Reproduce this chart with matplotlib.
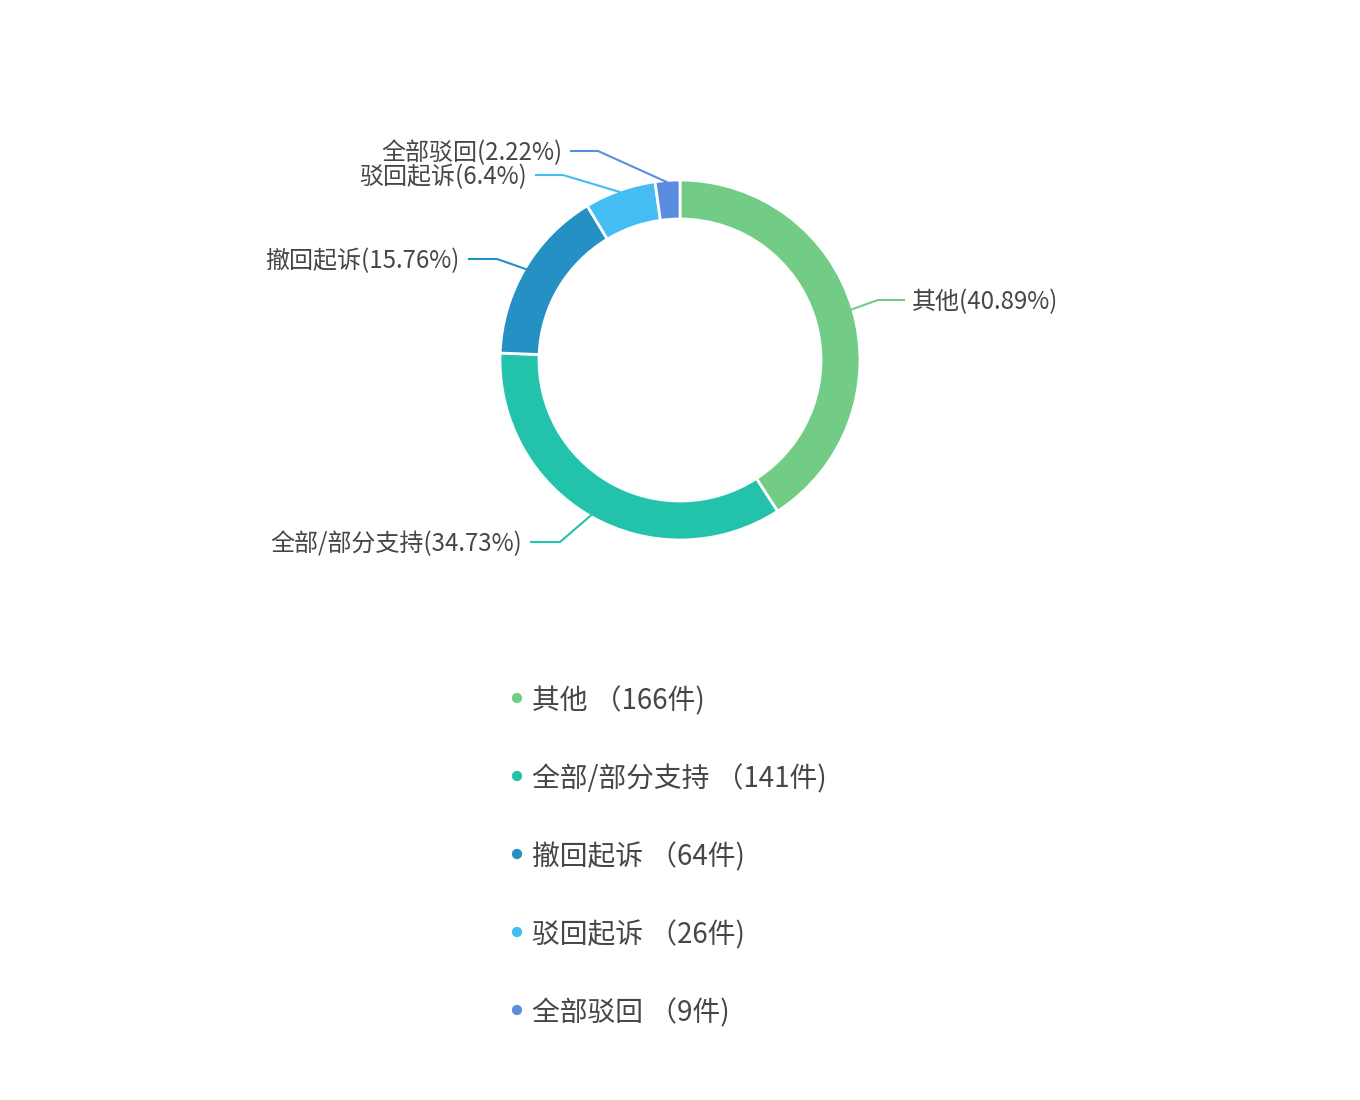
import numpy as np
import matplotlib

matplotlib.use("Agg")
import matplotlib.pyplot as plt

plt.rcParams["font.family"] = ["Noto Sans CJK SC", "DejaVu Sans"]

# --- data ---
names = ["其他", "全部/部分支持", "撤回起诉", "驳回起诉", "全部驳回"]
counts = [166, 141, 64, 26, 9]
pct_labels = ["40.89%", "34.73%", "15.76%", "6.4%", "2.22%"]
colors = ["#73cc86", "#22c3aa", "#2490c4", "#44bcf4", "#5a8de0"]

# layout in pixel coords (y up, figure is 1360 x 1100)
W, H = 1360, 1100
cx, cy = 680, H - 360
r_out, r_in = 180, 141
# elbow point and end of the horizontal leader for each label
elbows = [(878, H - 300), (560, H - 542), (497, H - 259), (563, H - 175), (598, H - 151)]
ends = [(905, H - 300), (530, H - 542), (468, H - 259), (535, H - 175), (570, H - 151)]

fig = plt.figure(figsize=(W / 100, H / 100), dpi=100)
ax = fig.add_axes([0, 0, 1, 1])
ax.set_xlim(0, W)
ax.set_ylim(0, H)
ax.axis("off")

wedges, _ = ax.pie(counts, colors=colors, startangle=90, counterclock=False,
                   center=(cx, cy), radius=r_out,
                   wedgeprops=dict(width=r_out - r_in, edgecolor="white", linewidth=2))
ax.set_xlim(0, W)
ax.set_ylim(0, H)
ax.set_aspect("equal")

for w, name, pct, col, (ex, ey), (tx, ty) in zip(wedges, names, pct_labels, colors, elbows, ends):
    mid = np.deg2rad((w.theta1 + w.theta2) / 2)
    sx = cx + (r_out - 2) * np.cos(mid)
    sy = cy + (r_out - 2) * np.sin(mid)
    ax.plot([sx, ex, tx], [sy, ey, ty], color=col, lw=1.5, solid_capstyle="butt")
    ha = "left" if tx > cx else "right"
    off = 7 if ha == "left" else -8
    ax.text(tx + off, ty - 2, f"{name}({pct})", ha=ha, va="center",
            fontsize=17.3, color="#464646")

# legend
leg_y0, leg_step = H - 698, 78
for i, (name, n, col) in enumerate(zip(names, counts, colors)):
    y = leg_y0 - i * leg_step
    ax.scatter([517], [y], s=55, color=col, edgecolors="none")
    ax.text(532, y - 3, f"{name} （{n}件)", ha="left", va="center",
            fontsize=20, color="#464646")

fig.savefig("out.png", dpi=100)
